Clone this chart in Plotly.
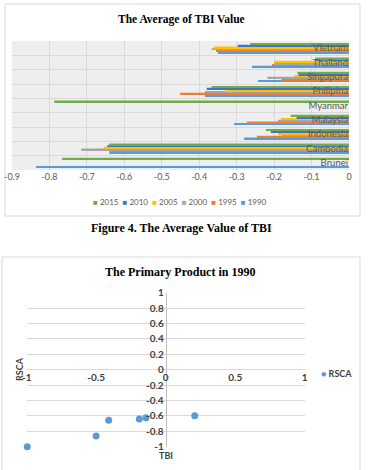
import plotly.graph_objects as go

# ---------------- data: top chart (average TBI value) ----------------
countries = ["Brunei", "Cambodia", "Indonesia", "Malaysia", "Myanmar",
             "Philipina", "Singapura", "Thailand", "Vietnam"]
years = ["1990", "1995", "2000", "2005", "2010", "2015"]
tbi_1990 = [-0.836, -0.640, -0.280, -0.307, 0.000, -0.385, -0.243, -0.259, -0.350]
tbi_1995 = [0.000, -0.640, -0.246, -0.273, 0.000, -0.451, -0.180, -0.206, -0.355]
tbi_2000 = [0.000, -0.715, -0.180, -0.190, 0.000, -0.385, -0.218, -0.200, -0.366]
tbi_2005 = [0.000, -0.655, -0.190, -0.182, 0.000, -0.330, -0.146, -0.200, -0.362]
tbi_2010 = [0.000, -0.645, -0.209, -0.140, 0.000, -0.380, -0.135, -0.090, -0.297]
tbi_2015 = [-0.766, -0.641, -0.222, -0.156, -0.787, -0.367, -0.138, -0.090, -0.264]
bar_ticks = [-0.9, -0.8, -0.7, -0.6, -0.5, -0.4, -0.3, -0.2, -0.1, 0]
bar_ticktext = ["-0.9", "-0.8", "-0.7", "-0.6", "-0.5", "-0.4", "-0.3", "-0.2", "-0.1", "0"]

# ---------------- data: bottom chart (primary product 1990) ----------------
tbi_points = [-0.996, -0.501, -0.410, -0.190, -0.142, 0.209]
rsca_points = [-1.000, -0.861, -0.657, -0.640, -0.623, -0.597]
sc_xticks = [-1, -0.5, 0, 0.5, 1]
sc_xticktext = ["-1", "-0.5", "0", "0.5", "1"]
sc_yticks = [1, 0.8, 0.6, 0.4, 0.2, 0, -0.2, -0.4, -0.6, -0.8, -1]
sc_yticktext = ["1", "0.8", "0.6", "0.4", "0.2", "0", "-0.2", "-0.4", "-0.6", "-0.8", "-1"]

colors = {"1990": "#5B9BD5", "1995": "#ED7D31", "2000": "#A5A5A5",
          "2005": "#FFC000", "2010": "#4472C4", "2015": "#70AD47"}
series = {"1990": tbi_1990, "1995": tbi_1995, "2000": tbi_2000,
          "2005": tbi_2005, "2010": tbi_2010, "2015": tbi_2015}
scatter_color = "#5B9BD5"

W, H = 368, 470
def px(x):
    return x / W
def py(y):
    return 1 - y / H

SANS = "Lato, 'Open Sans', sans-serif"
SERIF = "'Liberation Serif', 'DejaVu Serif', serif"

fig = go.Figure()
for yr in years:
    fig.add_trace(go.Bar(
        y=countries, x=series[yr], orientation="h", name=yr,
        marker=dict(color=colors[yr], line=dict(width=0)),
        xaxis="x", yaxis="y", showlegend=False,
    ))

fig.add_trace(go.Scatter(
    x=tbi_points, y=rsca_points, mode="markers", name="RSCA",
    marker=dict(color=scatter_color, size=7), cliponaxis=False,
    xaxis="x2", yaxis="y2", showlegend=False,
))

fig.update_layout(
    width=W, height=H, margin=dict(l=0, r=0, t=0, b=0, autoexpand=False),
    paper_bgcolor="white", plot_bgcolor="rgba(0,0,0,0)",
    barmode="group", bargap=0.3, bargroupgap=0,
    font=dict(family=SANS, color="#595959"),
    showlegend=False,
    xaxis=dict(
        domain=[px(12), px(349)], range=[-0.9, 0], anchor="y",
        tickmode="array", tickvals=bar_ticks, ticktext=bar_ticktext,
        showgrid=True, gridcolor="#d9d9d9", gridwidth=1, zeroline=False,
        showline=False, ticks="", tickfont=dict(size=9, color="#595959"),
        fixedrange=True,
    ),
    yaxis=dict(
        domain=[py(170), py(41)], anchor="free", position=px(348), side="left",
        tickson="boundaries",
        categoryorder="array", categoryarray=countries,
        showgrid=True, gridcolor="#d9d9d9", gridwidth=1, zeroline=False,
        showline=False, ticks="", tickfont=dict(size=9.5, color="#595959"),
        fixedrange=True,
    ),
    xaxis2=dict(
        domain=[px(26.7), px(304.7)], range=[-1, 1], anchor="free",
        position=py(369.7),
        tickmode="array", tickvals=sc_xticks, ticktext=sc_xticktext,
        showgrid=False, zeroline=False, showline=False, ticks="",
        tickfont=dict(size=10, color="#404040", weight="bold"),
        fixedrange=True,
    ),
    yaxis2=dict(
        domain=[py(446.7), py(292.7)], range=[-1, 1], anchor="free",
        position=px(165.7),
        tickmode="array", tickvals=sc_yticks, ticktext=sc_yticktext,
        showgrid=True, gridcolor="#d9d9d9", gridwidth=1, zeroline=False,
        showline=True, linecolor="#bfbfbf", linewidth=1, ticks="",
        tickfont=dict(size=10, color="#404040", weight="bold"),
        fixedrange=True,
    ),
)

# plot background of the bar chart, chart boxes
fig.add_shape(type="rect", xref="x domain", yref="y domain", x0=0, x1=1, y0=0, y1=1,
              fillcolor="#eeeeee", line=dict(width=0), layer="below")
fig.add_shape(type="rect", xref="paper", yref="paper", x0=px(5), x1=px(360),
              y0=py(216), y1=py(4), line=dict(color="#d9d9d9", width=1),
              fillcolor="rgba(0,0,0,0)", layer="below")
fig.add_shape(type="rect", xref="paper", yref="paper", x0=px(2), x1=px(360),
              y0=py(478), y1=py(257), line=dict(color="#d9d9d9", width=1),
              fillcolor="rgba(0,0,0,0)", layer="below")

# legend rows (built from the series names / colours)
bar_legend = "&nbsp;&nbsp;".join(
    f"<span style='color:{colors[yr]}'>■</span> {yr}" for yr in reversed(years))
scatter_legend = f"<span style='color:{scatter_color}'>●</span> RSCA"

anns = [
    dict(text="The Average of TBI Value", x=px(181), y=py(20),
         font=dict(family=SERIF, size=11.5, color="#000000", weight="bold")),
    dict(text=bar_legend, x=px(180), y=py(202),
         font=dict(family=SANS, size=8, color="#595959")),
    dict(text="Figure 4. The Average Value of TBI", x=px(181), y=py(228),
         font=dict(family=SERIF, size=12, color="#000000", weight="bold")),
    dict(text="The Primary Product in 1990", x=px(180), y=py(272),
         font=dict(family=SERIF, size=12, color="#000000", weight="bold")),
    dict(text="RSCA", x=px(19), y=py(369), textangle=-90,
         font=dict(family=SANS, size=9, color="#404040", weight="bold")),
    dict(text="TBI", x=px(166), y=py(455),
         font=dict(family=SANS, size=9, color="#404040", weight="bold")),
    dict(text=scatter_legend, x=px(336), y=py(373),
         font=dict(family=SANS, size=9, color="#404040", weight="bold")),
]
for a in anns:
    fig.add_annotation(xref="paper", yref="paper", showarrow=False,
                       xanchor="center", yanchor="middle", **a)

fig.write_html("out.html")
